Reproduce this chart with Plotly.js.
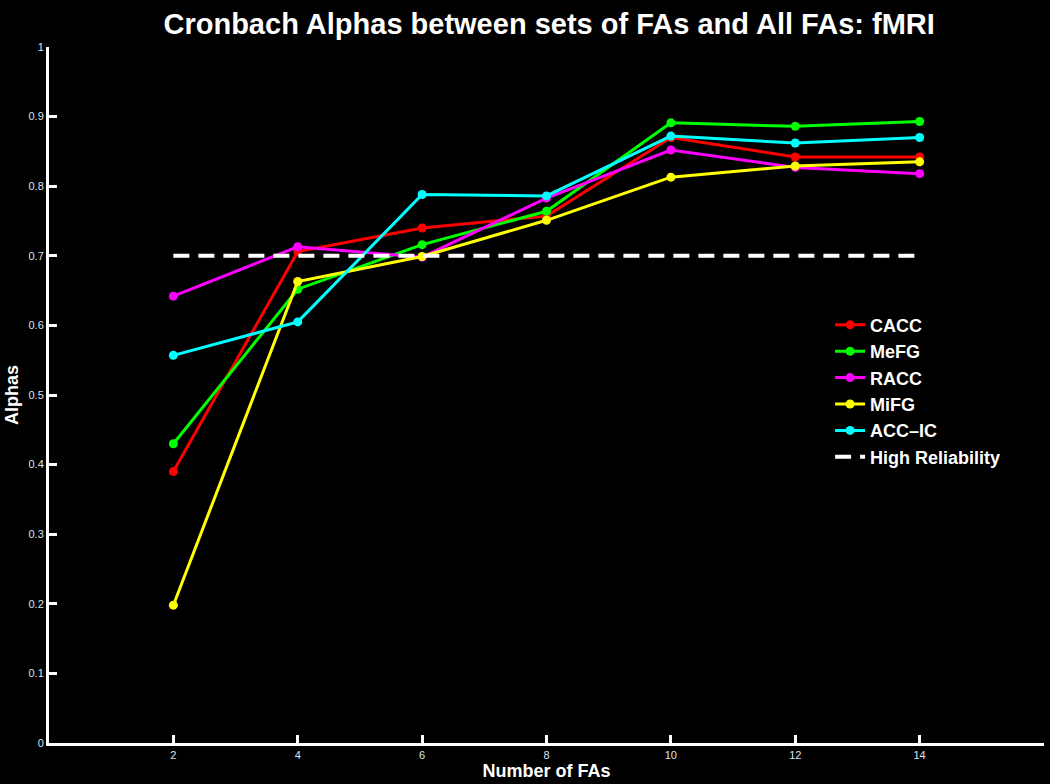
<!DOCTYPE html>
<html>
<head>
<meta charset="utf-8">
<script src="https://cdn.plot.ly/plotly-3.0.1.min.js"></script>
<style>html,body{margin:0;padding:0;background:#000;}#chart{width:1050px;height:784px;}</style>
</head>
<body>
<div id="chart"></div>
<script>
const numFAs = [2, 4, 6, 8, 10, 12, 14];
const CACC  = [0.390, 0.706, 0.740, 0.757, 0.870, 0.842, 0.842];
const MeFG  = [0.430, 0.652, 0.716, 0.764, 0.891, 0.886, 0.893];
const RACC  = [0.642, 0.713, 0.698, 0.783, 0.852, 0.827, 0.818];
const MiFG  = [0.198, 0.663, 0.699, 0.751, 0.813, 0.829, 0.835];
const ACCIC = [0.557, 0.605, 0.788, 0.786, 0.872, 0.862, 0.870];
const highX = [2, 14];
const highY = [0.7, 0.7];
const yTicks = [0, 0.1, 0.2, 0.3, 0.4, 0.5, 0.6, 0.7, 0.8, 0.9, 1];
const yTickText = ['0', '0.1', '0.2', '0.3', '0.4', '0.5', '0.6', '0.7', '0.8', '0.9', '1'];

const series = [
  {name: 'CACC', y: CACC, color: '#ff0000'},
  {name: 'MeFG', y: MeFG, color: '#00ff00'},
  {name: 'RACC', y: RACC, color: '#ff00ff'},
  {name: 'MiFG', y: MiFG, color: '#ffff00'},
  {name: 'ACC\u2013IC', y: ACCIC, color: '#00ffff'}
];
const traces = series.map(s => ({
  type: 'scatter', mode: 'lines+markers', name: s.name,
  x: numFAs, y: s.y,
  line: {color: s.color, width: 3},
  marker: {color: s.color, size: 9, symbol: 'circle'}
}));
traces.push({
  type: 'scatter', mode: 'lines', name: 'High Reliability',
  x: highX, y: highY,
  line: {color: '#ffffff', width: 4, dash: '16px,9px'}
});

const FF = 'Liberation Sans, Arial, sans-serif';
const tickFont = {family: FF, size: 11, color: '#d8e4f2'};
const layout = {
  width: 1050, height: 784,
  paper_bgcolor: '#000', plot_bgcolor: '#000',
  margin: {l: 49, r: 6, t: 47, b: 41},
  showlegend: true,
  title: {text: 'Cronbach Alphas between sets of FAs and All FAs: fMRI',
          font: {family: FF, size: 29, color: '#ffffff', weight: 'bold'},
          x: 0.523, xanchor: 'center', y: 0.969, yanchor: 'middle'},
  xaxis: {
    range: [0, 16], tickvals: numFAs, ticktext: numFAs.map(String),
    ticks: 'inside', ticklen: 8, tickwidth: 3, tickcolor: '#fff',
    showline: true, linecolor: '#fff', linewidth: 3, mirror: false,
    showgrid: false, zeroline: false, tickfont: tickFont,
    title: {text: 'Number of FAs', standoff: 2,
            font: {family: FF, size: 18, color: '#fff', weight: 'bold'}}
  },
  yaxis: {
    range: [0, 1], tickvals: yTicks, ticktext: yTickText,
    ticks: 'inside', ticklen: 8, tickwidth: 3, tickcolor: '#fff',
    showline: true, linecolor: '#fff', linewidth: 3, mirror: false,
    showgrid: false, zeroline: false, tickfont: tickFont,
    title: {text: 'Alphas', standoff: 6,
            font: {family: FF, size: 18, color: '#fff', weight: 'bold'}}
  },
  legend: {
    x: 0.785, y: 0.627, xanchor: 'left', yanchor: 'top',
    bgcolor: 'rgba(0,0,0,0)', borderwidth: 0,
    font: {family: FF, size: 18, color: '#fff', weight: 'bold'},
    itemwidth: 30, tracegroupgap: 0, entrywidth: 0
  }
};
Plotly.newPlot('chart', traces, layout, {displayModeBar: false, staticPlot: true}).then(() => {
  // no-op
});
</script>
</body>
</html>
